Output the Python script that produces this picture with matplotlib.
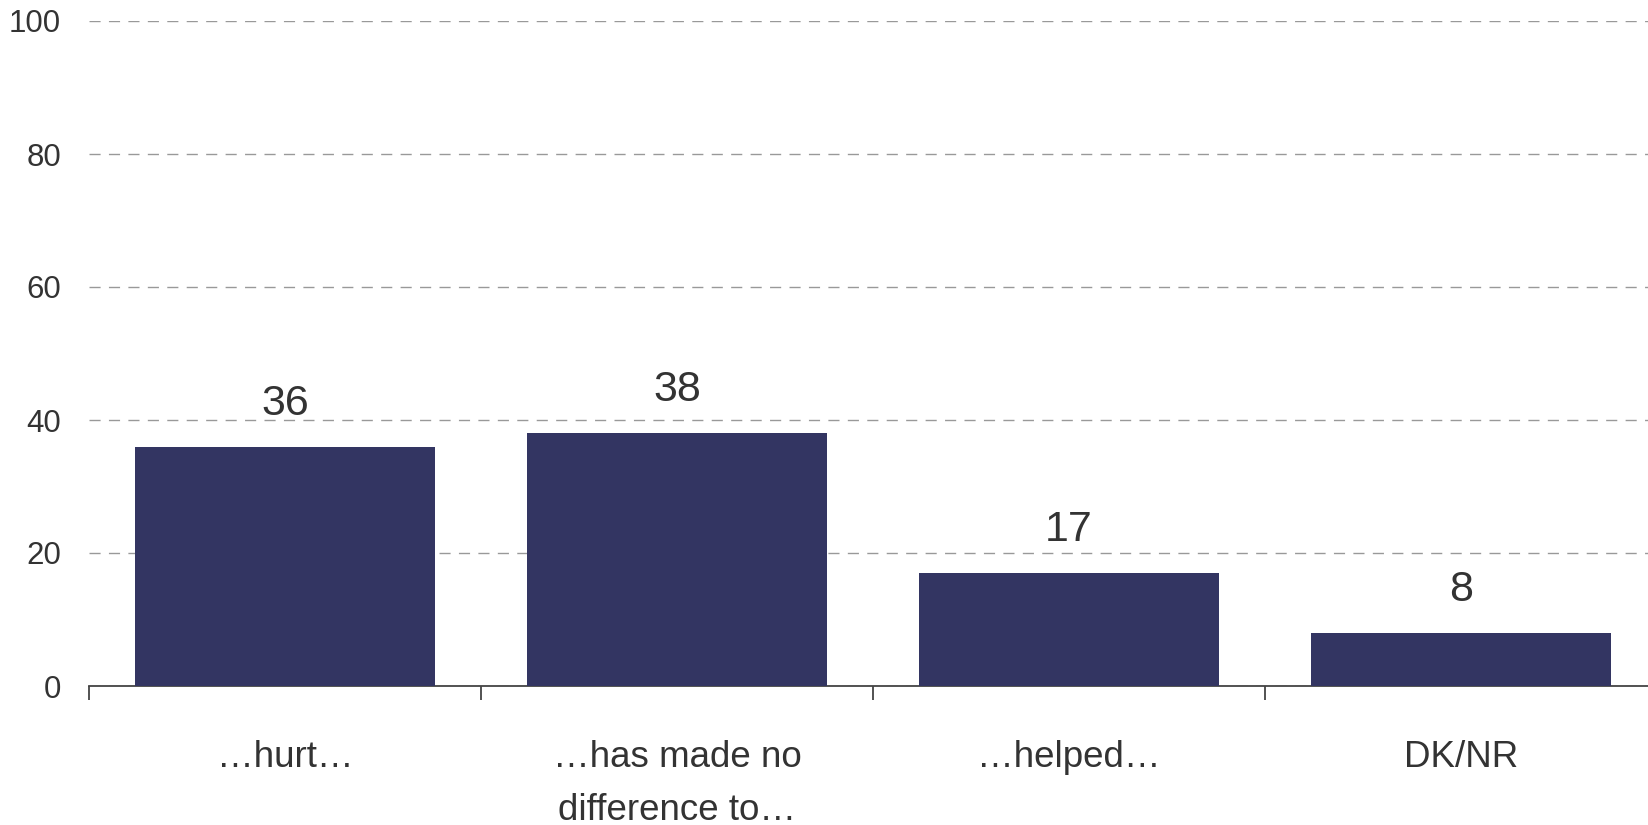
import numpy as np
import matplotlib
matplotlib.use('Agg')
import matplotlib.pyplot as plt

plt.rcParams['font.family'] = ['Liberation Sans', 'DejaVu Sans']

categories = ['\u2026hurt\u2026', '\u2026has made no\ndifference to\u2026', '\u2026helped\u2026', 'DK/NR']
values = [36, 38, 17, 8]
yticks = [0, 20, 40, 60, 80, 100]

bar_color = '#333562'
text_color = '#333333'

fig = plt.figure(figsize=(16.48, 8.25), dpi=100)
# axes runs a little past the right edge, as in the original
ax = fig.add_axes([89/1648, 139/825, 1568/1648, 665/825])

x = np.arange(len(categories))
bars = ax.bar(x, values, width=0.765, color=bar_color, zorder=3)

for xi, v in zip(x, values):
    ax.annotate(str(v), (xi, v), xytext=(0, 23), textcoords='offset points',
                ha='center', va='baseline', fontsize=31, color=text_color)

ax.set_xlim(-0.5, len(categories) - 0.5)
ax.set_ylim(0, 100)
ax.set_yticks(yticks)
ax.set_yticklabels([str(t) for t in yticks])
ax.yaxis.grid(True, linestyle=(0, (8, 6)), color='#999999', linewidth=1.0, zorder=0)
ax.set_axisbelow(True)

# category boundary ticks
ax.set_xticks(np.arange(len(categories) + 1) - 0.5)
ax.set_xticklabels([])
ax.set_xticks(x, minor=True)
ax.set_xticklabels(categories, minor=True, fontsize=26.5, color=text_color, linespacing=1.65)
ax.tick_params(axis='x', which='major', direction='out', length=10, width=1.3, color='#444444')
ax.tick_params(axis='x', which='minor', length=0, pad=39)
ax.tick_params(axis='y', length=0, pad=20, labelsize=22.5, labelcolor=text_color)

for s in ['left', 'right', 'top']:
    ax.spines[s].set_visible(False)
ax.spines['bottom'].set_color('#444444')
ax.spines['bottom'].set_linewidth(1.3)

fig.savefig('out.png', dpi=100)
